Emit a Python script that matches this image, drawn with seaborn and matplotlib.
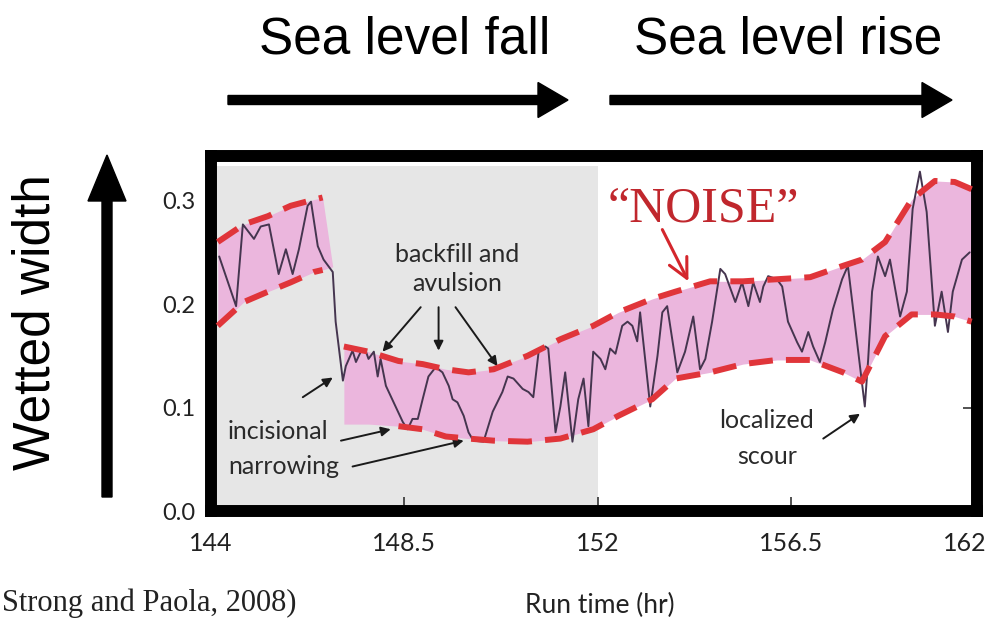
import matplotlib.pyplot as plt
import seaborn as sns
from matplotlib.patches import FancyArrow

# wetted width record (run time in hr)
run_time = [144.17, 144.52, 144.66, 144.89, 145.03, 145.20, 145.40, 145.55, 145.69, 145.82,
            146.00, 146.07, 146.21, 146.33, 146.52, 146.58, 146.73, 146.79, 146.93, 147.00,
            147.10, 147.20, 147.26, 147.37, 147.45, 147.51, 147.62, 147.78, 147.97, 148.07,
            148.17, 148.28, 148.38, 148.50, 148.65, 148.79, 148.92, 149.00, 149.10, 149.23,
            149.33, 149.43, 149.64, 149.83, 150.03, 150.14, 150.26, 150.45, 150.57, 150.67,
            150.78, 150.92, 150.98, 151.13, 151.23, 151.33, 151.48, 151.60, 151.71, 151.81,
            151.91, 152.06, 152.16, 152.26, 152.37, 152.51, 152.62, 152.72, 152.82, 152.88,
            153.09, 153.24, 153.34, 153.44, 153.65, 153.81, 153.98, 154.12, 154.23, 154.37,
            154.54, 154.64, 154.85, 154.99, 155.12, 155.22, 155.36, 155.43, 155.53, 155.71,
            155.82, 155.94, 156.13, 156.23, 156.36, 156.46, 156.60, 156.71, 156.87, 157.06,
            157.18, 157.53, 157.60, 157.68, 157.80, 157.95, 158.05, 158.26, 158.40, 158.52,
            158.67, 158.81, 158.98, 159.12, 159.25, 159.35, 159.54, 159.70]
wetted_width = [0.246, 0.198, 0.277, 0.263, 0.275, 0.277, 0.229, 0.253, 0.229, 0.253,
                0.295, 0.299, 0.256, 0.243, 0.231, 0.183, 0.126, 0.140, 0.155, 0.144,
                0.154, 0.155, 0.147, 0.154, 0.130, 0.147, 0.121, 0.105, 0.086, 0.079,
                0.089, 0.089, 0.108, 0.130, 0.139, 0.134, 0.121, 0.108, 0.105, 0.092,
                0.076, 0.068, 0.067, 0.096, 0.115, 0.130, 0.128, 0.118, 0.115, 0.110,
                0.154, 0.159, 0.157, 0.076, 0.101, 0.134, 0.067, 0.108, 0.128, 0.082,
                0.154, 0.147, 0.137, 0.157, 0.152, 0.179, 0.183, 0.179, 0.164, 0.192,
                0.101, 0.150, 0.192, 0.198, 0.134, 0.154, 0.188, 0.137, 0.147, 0.183,
                0.234, 0.229, 0.202, 0.221, 0.198, 0.221, 0.202, 0.217, 0.227, 0.224,
                0.217, 0.183, 0.163, 0.154, 0.173, 0.159, 0.144, 0.163, 0.195, 0.224,
                0.237, 0.101, 0.147, 0.212, 0.246, 0.227, 0.243, 0.188, 0.212, 0.292,
                0.328, 0.289, 0.179, 0.212, 0.173, 0.212, 0.243, 0.250]

# noise envelope before the incision step
band1_time = [144.14, 144.68, 145.18, 145.65, 146.13, 146.31, 146.52]
band1_upper = [0.260, 0.277, 0.285, 0.295, 0.301, 0.303, 0.236]
band1_lower = [0.179, 0.202, 0.212, 0.221, 0.231, 0.233, 0.236]

# noise envelope after the step
band2_time = [146.75, 147.26, 147.88, 148.38, 148.86, 149.33, 149.85, 150.55, 151.23, 151.91,
              152.43, 153.13, 153.61, 154.33, 155.01, 155.71, 156.40, 157.08, 157.47, 157.95,
              158.50, 158.98, 159.39, 159.74]
band2_upper = [0.159, 0.154, 0.145, 0.142, 0.137, 0.134, 0.137, 0.150, 0.166, 0.179,
               0.192, 0.205, 0.212, 0.222, 0.222, 0.224, 0.226, 0.237, 0.243, 0.260,
               0.301, 0.319, 0.318, 0.311]
band2_lower = [0.084, 0.084, 0.082, 0.079, 0.072, 0.070, 0.068, 0.067, 0.070, 0.079,
               0.092, 0.108, 0.128, 0.134, 0.142, 0.146, 0.146, 0.134, 0.125, 0.169,
               0.190, 0.190, 0.188, 0.183]

fall_start, fall_end = 144, 152
shade_top = 0.333

x_ticks = [144, 148, 152, 156, 159.6]
x_tick_labels = ['144', '148.5', '152', '156.5', '162']
y_ticks = [0.0, 0.1, 0.2, 0.3]
y_tick_labels = ['0.0', '0.1', '0.2', '0.3']

pink = '#ebb6dd'
red = '#e0353a'
sans = ['Lato', 'DejaVu Sans']

sns.set_theme(style='white')
plt.rcParams['font.family'] = sans

fig = plt.figure(figsize=(9.9, 6.27), dpi=100)
ax = fig.add_axes([0.2131, 0.185, 0.7737, 0.566])
ax.set_facecolor('white')

# sea level fall period shading and noise envelopes
ax.fill_between([fall_start, fall_end], 0, shade_top, color='#e6e6e6', lw=0, zorder=0)
ax.fill_between(band1_time, band1_lower, band1_upper, color=pink, lw=0, zorder=1)
ax.fill_between(band2_time, band2_lower, band2_upper, color=pink, lw=0, zorder=1)

sns.lineplot(x=run_time, y=wetted_width, ax=ax, color='#45354f', lw=1.4,
             sort=False, estimator=None, zorder=3)

dash = dict(color=red, lw=4.3, dashes=(4.0, 2.2), zorder=4)
ax.plot(band1_time[:6], band1_upper[:6], **dash)
ax.plot(band1_time[:6], band1_lower[:6], **dash)
ax.plot(band2_time, band2_upper, **dash)
ax.plot(band2_time[2:], band2_lower[2:], **dash)

ax.set_xlim(144, 159.85)
ax.set_ylim(0, 0.343)
ax.set_xticks(x_ticks)
ax.set_xticklabels(x_tick_labels)
ax.set_yticks(y_ticks)
ax.set_yticklabels(y_tick_labels)
ax.tick_params(axis='x', direction='in', length=10, width=1.2, color='#333333',
               bottom=True, labelsize=18, pad=15)
ax.tick_params(axis='y', direction='in', length=10, width=1.2, color='#333333',
               left=False, right=True, labelleft=True, labelsize=17, pad=11)
# the last tick sits under the frame in the original
ax.xaxis.get_major_ticks()[-1].tick1line.set_visible(False)
for lab in ax.get_xticklabels() + ax.get_yticklabels():
    lab.set_color('#222222')
for sp in ax.spines.values():
    sp.set_linewidth(8.6)
    sp.set_color('black')
    sp.set_capstyle('projecting')
ax.set_xlabel('')
ax.set_ylabel('')

# annotations inside the plot
txt = dict(fontsize=18, color='#2a2a2a', family=sans, zorder=6)
arr = dict(arrowstyle='-|>', color='#1a1a1a', lw=1.4, mutation_scale=14, shrinkA=0, shrinkB=0)
ax.text(149.10, 0.234, 'backfill and\navulsion', ha='center', va='center', linespacing=1.3, **txt)
ax.annotate('', xy=(147.55, 0.154), xytext=(148.34, 0.197), arrowprops=arr)
ax.annotate('', xy=(148.71, 0.155), xytext=(148.71, 0.197), arrowprops=arr)
ax.annotate('', xy=(149.93, 0.140), xytext=(149.06, 0.197), arrowprops=arr)

ax.text(144.35, 0.077, 'incisional', ha='left', va='center', **txt)
ax.text(144.35, 0.043, 'narrowing', ha='left', va='center', **txt)
ax.annotate('', xy=(146.52, 0.129), xytext=(145.90, 0.110), arrowprops=arr)
ax.annotate('', xy=(147.72, 0.079), xytext=(146.69, 0.068), arrowprops=arr)
ax.annotate('', xy=(149.23, 0.068), xytext=(146.93, 0.043), arrowprops=arr)

ax.text(155.5, 0.087, 'localized', ha='center', va='center', **txt)
ax.text(155.5, 0.053, 'scour', ha='center', va='center', **txt)
ax.annotate('', xy=(157.43, 0.094), xytext=(156.67, 0.070), arrowprops=arr)

ax.text(154.19, 0.292, '\u201cNOISE\u201d', ha='center', va='center', fontsize=36,
        color='#c0272d', family=['Liberation Serif', 'DejaVu Serif'], zorder=6)
ax.annotate('', xy=(153.88, 0.222), xytext=(153.34, 0.272),
            arrowprops=dict(arrowstyle='->,head_length=0.7,head_width=0.35', color='#d4262c',
                            lw=2.2, mutation_scale=20, shrinkA=0, shrinkB=0))

# outer labels and arrows
title_font = ['Liberation Sans', 'DejaVu Sans']
fig.text(0.409, 0.936, 'Sea level fall', ha='center', va='center', fontsize=37,
         family=title_font, color='black')
fig.text(0.796, 0.936, 'Sea level rise', ha='center', va='center', fontsize=37,
         family=title_font, color='black')
fig.text(0.0364, 0.486, 'Wetted width', ha='center', va='center', rotation=90,
         fontsize=37, family=title_font, color='black')
fig.text(0.002, 0.038, 'Strong and Paola, 2008)', ha='left', va='center', fontsize=22,
         family=['Liberation Serif', 'DejaVu Serif'], color='#222222')
fig.text(0.606, 0.035, 'Run time (hr)', ha='center', va='center', fontsize=19,
         family=sans, color='#222222')

inch = fig.dpi_scale_trans
fig.add_artist(FancyArrow(2.28, 5.27, 3.40, 0, width=0.09, head_width=0.35, head_length=0.30,
                          length_includes_head=True, color='black', transform=inch))
fig.add_artist(FancyArrow(6.10, 5.27, 3.42, 0, width=0.09, head_width=0.35, head_length=0.30,
                          length_includes_head=True, color='black', transform=inch))
fig.add_artist(FancyArrow(1.07, 1.30, 0, 3.42, width=0.10, head_width=0.38, head_length=0.46,
                          length_includes_head=True, color='black', transform=inch))

fig.savefig('out.png', dpi=100)
